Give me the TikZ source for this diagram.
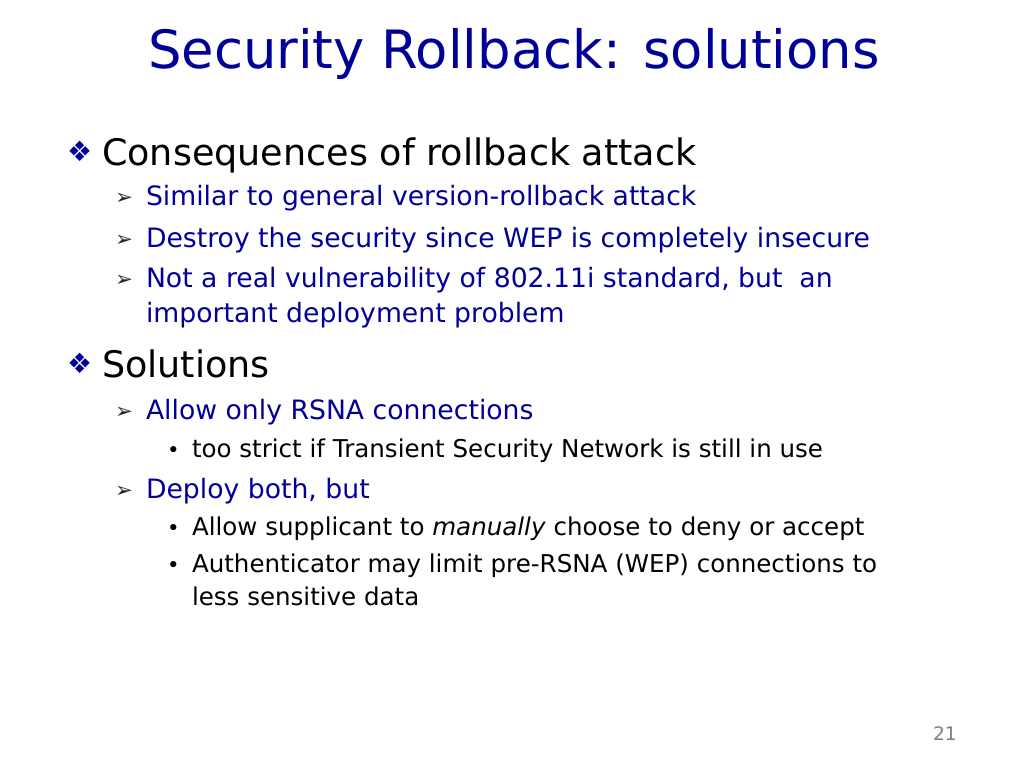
\documentclass[tikz,border=0pt]{standalone}
\usepackage{fontspec}
\setmainfont{DejaVu Sans}
\newfontfamily\symfont{DejaVu Sans}
\definecolor{navy}{RGB}{0,0,153}
\definecolor{pagegray}{RGB}{128,128,128}
\begin{document}
\begin{tikzpicture}[x=0.75pt,y=-0.75pt,
  every node/.style={anchor=base west, inner sep=0pt, outer sep=0pt},
  titletext/.style={text=navy, font=\fontsize{39.6pt}{48pt}\selectfont},
  lvlone/.style={text=black, font=\fontsize{27.4pt}{32pt}\selectfont},
  lvltwo/.style={text=navy, font=\fontsize{20pt}{24pt}\selectfont},
  lvlthree/.style={text=black, font=\fontsize{18.4pt}{22pt}\selectfont},
  bulone/.style={text=navy, font=\symfont\fontsize{21pt}{25pt}\selectfont},
  bultwo/.style={text=black!85, font=\symfont\fontsize{16pt}{19pt}\selectfont},
  bulthree/.style={text=black, font=\fontsize{16pt}{19pt}\selectfont},
  pagenum/.style={text=pagegray, font=\fontsize{14pt}{17pt}\selectfont}]
\useasboundingbox[fill=white] (0,0) rectangle (1024,768);
\node[titletext] (title) at (148,68) {Security Rollback: solutions};
% Consequences
\node[bulone] (b1) at (67,161) {❖};
\node[lvlone] (t1) at (102,165) {Consequences of rollback attack};
\node[bultwo] (b11) at (115,204) {➢};
\node[lvltwo] (t11) at (146,205) {Similar to general version-rollback attack};
\node[bultwo] (b12) at (115,246) {➢};
\node[lvltwo] (t12) at (146,247) {Destroy the security since WEP is completely insecure};
\node[bultwo] (b13) at (115,286) {➢};
\node[lvltwo] (t13) at (146,287) {Not a real vulnerability of 802.11i standard, but\ \ an};
\node[lvltwo] (t13b) at (146,322) {important deployment problem};
% Solutions
\node[bulone] (b2) at (67,373) {❖};
\node[lvlone] (t2) at (102,377) {Solutions};
\node[bultwo] (b21) at (115,418) {➢};
\node[lvltwo] (t21) at (146,419) {Allow only RSNA connections};
\node[bulthree] (b211) at (167,457) {•};
\node[lvlthree] (t211) at (192,457) {too strict if Transient Security Network is still in use};
\node[bultwo] (b22) at (115,497) {➢};
\node[lvltwo] (t22) at (146,498) {Deploy both, but};
\node[bulthree] (b221) at (167,535) {•};
\node[lvlthree] (t221) at (192,535) {Allow supplicant to \textit{manually} choose to deny or accept};
\node[bulthree] (b222) at (167,572) {•};
\node[lvlthree] (t222) at (192,572) {Authenticator may limit pre-RSNA (WEP) connections to};
\node[lvlthree] (t222b) at (192,605) {less sensitive data};
\node[pagenum] (pn) at (933,740) {21};
\end{tikzpicture}
\end{document}
